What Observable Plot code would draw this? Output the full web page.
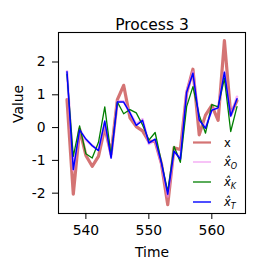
<!DOCTYPE html>
<html><head><meta charset="utf-8">
<script src="https://cdn.jsdelivr.net/npm/d3@7"></script>
<script src="https://cdn.jsdelivr.net/npm/@observablehq/plot@0.6"></script>
<style>
body{margin:0;background:#fff;}
#wrap{position:relative;width:256px;height:272px;font-family:"DejaVu Sans";}
#wrap svg{position:absolute;left:0;top:0;}
</style>
</head><body><div id="wrap"></div>
<script>
const title = "Process 3";
const xLabel = "Time";
const yLabel = "Value";
const time = [537,538,539,540,541,542,543,544,545,546,547,548,549,550,551,552,553,554,555,556,557,558,559,560,561,562,563,564];
const seriesX = [0.85,-2.03,-0.05,-0.85,-1.18,-0.88,0.0,-0.8,0.85,1.29,0.3,0.03,-0.1,-0.42,-0.42,-1.1,-2.35,-0.62,-0.67,1.05,1.78,-0.22,0.38,0.68,0.22,2.65,0.4,0.82];
const seriesO = [1.72,-1.3,-0.05,-0.38,-0.55,-0.68,0.15,-0.9,0.8,0.8,0.45,0.1,0.25,-0.5,-0.38,-1.1,-2.1,-0.7,-0.95,1.1,1.7,0.25,0.0,0.55,0.6,1.7,0.35,0.94];
const seriesK = [1.62,-0.88,0.05,-0.8,-0.93,-0.45,0.63,-0.85,0.78,0.42,0.55,0.45,0.08,-0.38,-0.15,-1.05,-1.95,-0.57,-1.06,0.64,1.25,0.38,-0.17,0.7,0.63,1.5,-0.12,0.64];
const seriesT = [1.7,-1.28,-0.07,-0.35,-0.55,-0.7,0.2,-0.93,0.78,0.78,0.45,0.07,0.22,-0.47,-0.35,-1.08,-2.03,-0.72,-0.96,1.08,1.66,0.23,-0.02,0.53,0.6,1.69,0.35,0.88];
const xTicks = [540,550,560];
const yTicks = [-2,-1,0,1,2];
const legendNames = ["x","O","K","T"];

const styles = [
  {color:"#cd5c5c", width:3.2, opacity:0.85, legendWidth:2.2},
  {color:"#ee82ee", width:2.6, opacity:0.6, legendWidth:1.6},
  {color:"#007f00", width:1.3, opacity:1, legendWidth:1.3},
  {color:"#0000ff", width:1.5, opacity:1, legendWidth:1.4}
];
const allSeries = [seriesX, seriesO, seriesK, seriesT];
const tables = allSeries.map(s => time.map((t,i)=>({t, v:s[i]})));

const chart = Plot.plot({
  width:256, height:272,
  marginLeft:58, marginRight:11, marginTop:32, marginBottom:59,
  style:{fontFamily:"DejaVu Sans", fontSize:"13.9px", background:"#fff", color:"#000"},
  x:{domain:[535.65,565.35]},
  y:{domain:[-2.62,2.9]},
  marks:[
    ...tables.map((tb,i)=>Plot.line(tb,{x:"t",y:"v",stroke:styles[i].color,strokeWidth:styles[i].width,strokeOpacity:styles[i].opacity})),
    Plot.frame({stroke:"#000", strokeWidth:1.1}),
    Plot.axisX({ticks:xTicks, tickSize:6, tickPadding:6, label:null, tickFormat:d=>`${d}`}),
    Plot.axisY({ticks:yTicks, tickSize:6, tickPadding:7, label:null, tickFormat:d=>`${d}`}),
    Plot.text([xLabel],{frameAnchor:"bottom", dy:38.7, lineAnchor:"middle", text:d=>d}),
    Plot.text([yLabel],{frameAnchor:"left", dx:-39.7, rotate:-90, text:d=>d}),
    Plot.text([title],{frameAnchor:"top", dy:-13.7, fontSize:15.5, text:d=>d})
  ]
});
document.getElementById("wrap").appendChild(chart);

// legend (inside the axes, lower right, no frame)
const lg = d3.select("#wrap").append("svg").attr("width",256).attr("height",272)
  .style("pointer-events","none");
const rowY = [142.5,162,182,202];
legendNames.forEach((n,i)=>{
  lg.append("line").attr("x1",193).attr("x2",211).attr("y1",rowY[i]).attr("y2",rowY[i])
    .attr("stroke",styles[i].color).attr("stroke-width",styles[i].legendWidth).attr("stroke-opacity",styles[i].opacity);
  const t = lg.append("text").attr("x",224).attr("y",rowY[i]).attr("dy","0.35em")
    .attr("font-family","DejaVu Sans").attr("font-size",11.5).attr("fill","#000");
  if (i===0) { t.text(n); }
  else {
    t.append("tspan").attr("font-style","italic").text("x\u0302");
    t.append("tspan").attr("font-style","italic").attr("font-size",8).attr("dy",3).text(n);
  }
});
</script>
</body></html>
